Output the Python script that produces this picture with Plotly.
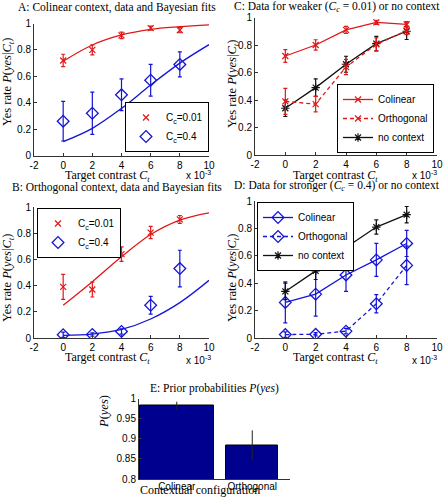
import plotly.graph_objects as go

W, H = 448, 500


def px(x):
    return x / W


def py(y):
    return 1 - y / H


# ---------------- data ----------------
contrast = [0, 2, 4, 6, 8]
fit_x = [0, 2, 4, 6, 8, 10]

# Colinear context
colin_weak = [0.72, 0.80, 0.91, 0.965, 0.95]
colin_weak_err = [0.047, 0.038, 0.025, 0.015, 0.02]
colin_strong = [0.26, 0.32, 0.46, 0.57, 0.69]
colin_strong_err = [0.15, 0.16, 0.12, 0.12, 0.095]
fit_colin_weak = [0.714, 0.837, 0.913, 0.956, 0.976, 0.99]
fit_colin_strong = [0.105, 0.206, 0.357, 0.534, 0.70, 0.84]

# Orthogonal context
orth_weak = [0.39, 0.37, 0.64, 0.805, 0.905]
orth_weak_err = [0.095, 0.057, 0.055, 0.047, 0.03]
orth_strong = [0.025, 0.027, 0.05, 0.25, 0.53]
orth_strong_err = [0.02, 0.012, 0.02, 0.067, 0.14]
fit_orth_weak = [0.25, 0.43, 0.62, 0.79, 0.90, 0.955]
fit_orth_strong = [0.02, 0.03, 0.065, 0.145, 0.27, 0.44]

# No context
no_context = [0.34, 0.49, 0.66, 0.81, 0.90]
no_context_err = [0.06, 0.063, 0.058, 0.052, 0.06]

# Prior probabilities
prior_labels = ["Colinear", "Orthogonal"]
prior_values = [0.982, 0.884]
prior_err = [0.01, 0.037]

x_ticks = [-2, 0, 2, 4, 6, 8, 10]
x_ticktext = ["-2", "0", "2", "4", "6", "8", "10"]
y_ticks = [0, 0.2, 0.4, 0.6, 0.8, 1]
y_ticktext = ["0", "0.2", "0.4", "0.6", "0.8", "1"]
e_ticks = [0.8, 0.85, 0.9, 0.95, 1]
e_ticktext = ["0.8", "0.85", "0.9", "0.95", "1"]

# ---------------- styles ----------------
RED = "#e01818"
BLUE = "#1414d8"
BLACK = "#111111"
NAVY = "#00008f"
SANS = "Liberation Sans, Arial, sans-serif"
SERIF = "Liberation Serif, Times New Roman, serif"

fig = go.Figure()


def err(arr, color):
    return dict(type="data", array=arr, visible=True, color=color, thickness=1.2, width=2)


def x_marker(color):
    return dict(symbol="x-thin-open", size=6, color=color, line=dict(color=color, width=1.2))


def d_marker(color):
    return dict(symbol="diamond-open", size=9, color=color, line=dict(color=color, width=1.3))


def star_marker(color):
    return dict(symbol="asterisk-open", size=7, color=color, line=dict(color=color, width=1.2))


cc1 = "C<sub>c</sub>=0.01"
cc4 = "C<sub>c</sub>=0.4"

# ---- Panel A ----
fig.add_trace(go.Scatter(x=fit_x, y=fit_colin_weak, mode="lines", line=dict(color=RED, width=1.3, shape="spline"),
                         showlegend=False, xaxis="x", yaxis="y", hoverinfo="skip"))
fig.add_trace(go.Scatter(x=fit_x, y=fit_colin_strong, mode="lines", line=dict(color=BLUE, width=1.3, shape="spline"),
                         showlegend=False, xaxis="x", yaxis="y", hoverinfo="skip"))
fig.add_trace(go.Scatter(x=contrast, y=colin_weak, mode="markers", marker=x_marker(RED), error_y=err(colin_weak_err, RED),
                         name=cc1, xaxis="x", yaxis="y", legend="legend"))
fig.add_trace(go.Scatter(x=contrast, y=colin_strong, mode="markers", marker=d_marker(BLUE), error_y=err(colin_strong_err, BLUE),
                         name=cc4, xaxis="x", yaxis="y", legend="legend"))

# ---- Panel B ----
fig.add_trace(go.Scatter(x=fit_x, y=fit_orth_weak, mode="lines", line=dict(color=RED, width=1.3, shape="spline"),
                         showlegend=False, xaxis="x3", yaxis="y3", hoverinfo="skip"))
fig.add_trace(go.Scatter(x=fit_x, y=fit_orth_strong, mode="lines", line=dict(color=BLUE, width=1.3, shape="spline"),
                         showlegend=False, xaxis="x3", yaxis="y3", hoverinfo="skip"))
fig.add_trace(go.Scatter(x=contrast, y=orth_weak, mode="markers", marker=x_marker(RED), error_y=err(orth_weak_err, RED),
                         name=cc1, xaxis="x3", yaxis="y3", legend="legend3"))
fig.add_trace(go.Scatter(x=contrast, y=orth_strong, mode="markers", marker=d_marker(BLUE), error_y=err(orth_strong_err, BLUE),
                         name=cc4, xaxis="x3", yaxis="y3", legend="legend3"))

# ---- Panel C ----
fig.add_trace(go.Scatter(x=contrast, y=no_context, mode="lines+markers", marker=star_marker(BLACK),
                         line=dict(color=BLACK, width=1.3), error_y=err(no_context_err, BLACK),
                         name="no context", xaxis="x2", yaxis="y2", legend="legend2", legendrank=3))
fig.add_trace(go.Scatter(x=contrast, y=orth_weak, mode="lines+markers", marker=x_marker(RED),
                         line=dict(color=RED, width=1.3, dash="4px,3px"), error_y=err(orth_weak_err, RED),
                         name="Orthogonal", xaxis="x2", yaxis="y2", legend="legend2", legendrank=2))
fig.add_trace(go.Scatter(x=contrast, y=colin_weak, mode="lines+markers", marker=x_marker(RED),
                         line=dict(color=RED, width=1.3), error_y=err(colin_weak_err, RED),
                         name="Colinear", xaxis="x2", yaxis="y2", legend="legend2", legendrank=1))

# ---- Panel D ----
fig.add_trace(go.Scatter(x=contrast, y=colin_strong, mode="lines+markers", marker=d_marker(BLUE),
                         line=dict(color=BLUE, width=1.3), error_y=err(colin_strong_err, BLUE),
                         name="Colinear", xaxis="x4", yaxis="y4", legend="legend4", legendrank=1))
fig.add_trace(go.Scatter(x=contrast, y=orth_strong, mode="lines+markers", marker=d_marker(BLUE),
                         line=dict(color=BLUE, width=1.3, dash="4px,3px"), error_y=err(orth_strong_err, BLUE),
                         name="Orthogonal", xaxis="x4", yaxis="y4", legend="legend4", legendrank=2))
fig.add_trace(go.Scatter(x=contrast, y=no_context, mode="lines+markers", marker=star_marker(BLACK),
                         line=dict(color=BLACK, width=1.3), error_y=err(no_context_err, BLACK),
                         name="no context", xaxis="x4", yaxis="y4", legend="legend4", legendrank=3))

# ---- Panel E ----
fig.add_trace(go.Bar(x=prior_labels, y=prior_values, width=[0.98, 0.69],
                     marker=dict(color=NAVY, line=dict(color="black", width=1)),
                     error_y=dict(type="data", array=prior_err, visible=True, color="#222", thickness=1, width=0),
                     showlegend=False, xaxis="x5", yaxis="y5"))


# ---------------- axes ----------------
def ax_common():
    return dict(showline=True, linecolor="#333", linewidth=1, ticks="inside", ticklen=3, tickcolor="#333",
                mirror=False, showgrid=False, zeroline=False, automargin=False,
                tickfont=dict(family=SANS, size=10, color="black"))


def xaxis(dom, anchor):
    d = ax_common()
    d.update(domain=dom, anchor=anchor, range=[-2, 10], tickvals=x_ticks, ticktext=x_ticktext)
    return d


def yaxis(dom, anchor):
    d = ax_common()
    d.update(domain=dom, anchor=anchor, range=[0, 1], tickvals=y_ticks, ticktext=y_ticktext)
    return d


A_x = [px(34), px(209)]
A_y = [py(155.5), py(23.5)]
C_x = [px(255), px(437)]
C_y = [py(155), py(17.5)]
B_x = [px(34), px(209)]
B_y = [py(338), py(207)]
D_x = [px(255), px(437)]
D_y = [py(338), py(201)]
E_x = [px(139), px(290)]
E_y = [py(479), py(398.5)]

e_x = ax_common()
e_x.update(domain=E_x, anchor="y5", range=[-0.5, 1.5], type="category", ticks="", ticklabelstandoff=-2)
e_y = ax_common()
e_y.update(domain=E_y, anchor="x5", range=[0.8, 1], tickvals=e_ticks, ticktext=e_ticktext)


def legend_box(x, y, xa, ya):
    return dict(x=px(x), y=py(y), xanchor=xa, yanchor=ya, xref="paper", yref="paper",
                bgcolor="white", bordercolor="black", borderwidth=1,
                font=dict(family=SANS, size=10, color="black"), tracegroupgap=0,
                itemwidth=30, itemclick=False, itemdoubleclick=False)


fig.update_layout(
    width=W, height=H, margin=dict(l=0, r=0, t=0, b=0, autoexpand=False),
    paper_bgcolor="white", plot_bgcolor="white",
    xaxis=xaxis(A_x, "y"), yaxis=yaxis(A_y, "x"),
    xaxis2=xaxis(C_x, "y2"), yaxis2=yaxis(C_y, "x2"),
    xaxis3=xaxis(B_x, "y3"), yaxis3=yaxis(B_y, "x3"),
    xaxis4=xaxis(D_x, "y4"), yaxis4=yaxis(D_y, "x4"),
    xaxis5=e_x, yaxis5=e_y,
    legend=legend_box(209, 152, "right", "bottom"),
    legend2=legend_box(434, 153, "right", "bottom"),
    legend3=legend_box(37, 208, "left", "top"),
    legend4=legend_box(257, 202, "left", "top"),
    bargap=0,
    showlegend=True,
)

# ---------------- text ----------------
ann = []


def text(x, y, s, size=12, family=SERIF, angle=0, xa="center", ya="middle"):
    ann.append(dict(x=px(x), y=py(y), xref="paper", yref="paper", text=s, showarrow=False,
                    font=dict(family=family, size=size, color="black"), textangle=angle,
                    xanchor=xa, yanchor=ya))


ylab = "Yes rate <i>P</i>(<i>yes</i>|<i>C<sub>t</sub></i>)"
xlab = "Target contrast <i>C<sub>t</sub></i>"
xexp = "x 10<sup>-3</sup>"

text(117, 7, "A: Colinear context, data and Bayesian fits", size=11.5)
text(117, 187, "B: Orthogonal context, data and Bayesian fits", size=11.5)
text(337, 7, "C: Data for weaker (<i>C<sub>c</sub></i> = 0.01) or no context", size=11.5)
text(337, 186, "D: Data for stronger (<i>C<sub>c</sub></i> = 0.4) or no context", size=11.5)
text(214, 388, "E: Prior probabilities <i>P</i>(<i>yes</i>)", size=11.5)

text(8, 82, ylab, angle=-90, size=12.5)
text(8, 278, ylab, angle=-90, size=12.5)
text(233, 84, ylab, angle=-90, size=12.5)
text(233, 278, ylab, angle=-90, size=12.5)
text(104, 412, "<i>P</i>(<i>yes</i>)", angle=-90, size=12.5)

text(107, 175.5, xlab)
text(107, 357.5, xlab)
text(335, 175.5, xlab)
text(335, 357.5, xlab)
text(200, 499, "Contextual configuration", ya="bottom")

text(198, 175, xexp, size=10, family=SANS)
text(198, 360, xexp, size=10, family=SANS)
text(424, 175, xexp, size=10, family=SANS)
text(424, 360, xexp, size=10, family=SANS)

fig.update_layout(annotations=ann)

fig.write_html("out.html", config={"displayModeBar": False},
               post_script="document.body.style.margin='0';")
